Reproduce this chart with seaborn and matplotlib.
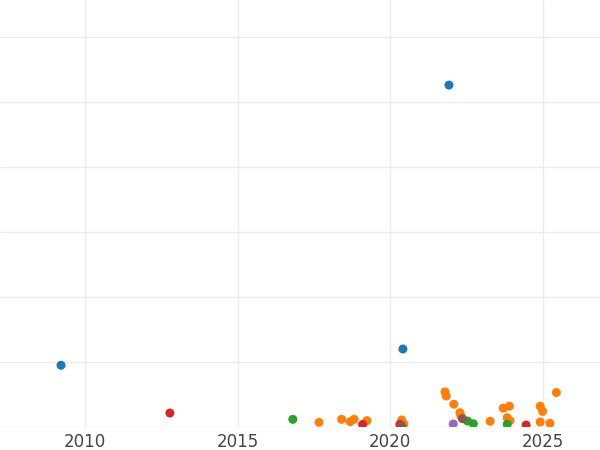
import numpy as np
import pandas as pd
import matplotlib
matplotlib.use("Agg")
import matplotlib.pyplot as plt
import seaborn as sns

# ── data ─────────────────────────────────────────────────────────────────────
GROUPS = ["group A", "group B", "group C", "group D", "group E", "group F"]
PALETTE = ["#1f77b4", "#ff7f0e", "#2ca02c", "#d62728", "#9467bd", "#8c564b"]

a_year = [2009.21, 2020.42, 2021.93]
a_val = [95, 120, 526]

b_year = [2017.67, 2018.41, 2018.69, 2018.82, 2019.24, 2020.38, 2020.45,
          2021.80, 2021.84, 2022.09, 2022.29, 2022.32, 2023.28, 2023.71,
          2023.91, 2023.84, 2023.93, 2024.92, 2025.00, 2024.92, 2025.24,
          2025.45]
b_val = [7.2, 11.8, 8.2, 11.8, 9.7, 10.8, 4.6,
         54, 47.7, 35, 22, 17, 8.8, 29,
         32, 14.3, 9.7, 32, 24, 7.7, 5.7,
         53]

c_year = [2016.81, 2022.54, 2022.73, 2023.84]
c_val = [11.8, 9.2, 5.0, 4.2]

d_year = [2012.78, 2019.10, 2020.32, 2024.46]
d_val = [21.5, 4.0, 4.0, 3.0]

e_year = [2022.07]
e_val = [4.6]

f_year = [2020.38, 2022.37]
f_val = [1.5, 12.8]

frames = []
for g, yr, v in zip(GROUPS,
                    [a_year, b_year, c_year, d_year, e_year, f_year],
                    [a_val, b_val, c_val, d_val, e_val, f_val]):
    frames.append(pd.DataFrame({"year": yr, "value": v, "group": g}))
df = pd.concat(frames, ignore_index=True)

# ── plot ─────────────────────────────────────────────────────────────────────
sns.set_style("whitegrid")
fig = plt.figure(figsize=(6, 4.5), dpi=100)
ax = fig.add_axes([0, 23 / 450, 1, 427 / 450])

sns.scatterplot(data=df, x="year", y="value", hue="group",
                hue_order=GROUPS, palette=PALETTE, s=42, linewidth=0,
                legend=False, ax=ax, zorder=3)

ax.set_xlim(2007.21, 2007.21 + 600 / 30.5)
ax.set_ylim(0, 427 / 0.65)
ax.set_xticks([2010, 2015, 2020, 2025])
ax.set_yticks(np.arange(0, 700, 100))
ax.set_yticklabels([])
ax.set_xlabel("")
ax.set_ylabel("")
ax.grid(True, color="#ebebeb", linewidth=1)
ax.tick_params(axis="x", length=0, pad=4, labelsize=12, labelcolor="#444444")
ax.tick_params(axis="y", length=0)
for sp in ax.spines.values():
    sp.set_visible(False)

fig.savefig("out.png", dpi=100)
